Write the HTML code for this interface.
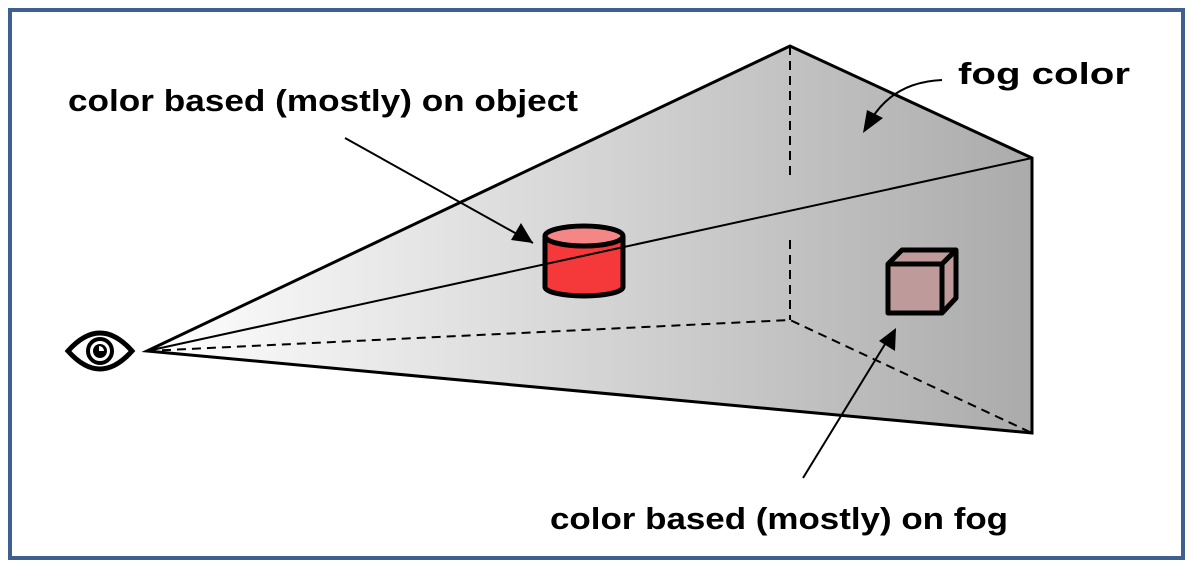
<!DOCTYPE html><html><head><style>body{margin:0;background:#fff}</style></head><body>
<svg width="1193" height="577" xmlns="http://www.w3.org/2000/svg" style="display:block">
<defs>
<linearGradient id="g" x1="147" y1="0" x2="1032" y2="0" gradientUnits="userSpaceOnUse"><stop offset="0" stop-color="#ffffff"/><stop offset="1" stop-color="#ababab"/></linearGradient>
</defs>
<rect x="10" y="10" width="1173" height="548" fill="#fff" stroke="#3f5f8f" stroke-width="4"/>
<polygon points="147,351 790,46 1032,158 1032,433" fill="url(#g)" stroke="#000" stroke-width="3"/>
<g stroke="#000" stroke-width="2" stroke-dasharray="9,6" fill="none">
<polyline points="147,351 790,320 1032,433"/>
<line x1="790" y1="46" x2="790" y2="175"/>
<line x1="790" y1="240" x2="790" y2="320"/>
</g>
<path d="M545,236 V287 A39,9 0 0 0 623,287 V236" fill="#f5393a" stroke="#000" stroke-width="5"/>
<ellipse cx="584" cy="236" rx="39" ry="10" fill="#f48686" stroke="#000" stroke-width="5"/>
<line x1="147" y1="351" x2="1032" y2="158" stroke="#000" stroke-width="2"/>
<g stroke="#000" stroke-width="5" stroke-linejoin="round" fill="#bf9a9b">
<polygon points="888,264 902,250 956,250 956,298 942,313 888,313"/>
<polyline points="888,264 942,264 956,250" fill="none"/>
<line x1="942" y1="264" x2="942" y2="313"/>
</g>
<line x1="345" y1="138" x2="533" y2="243" stroke="#000" stroke-width="2"/>
<path d="M533,243 l-22,-3 l10,-17z"/>
<line x1="803" y1="478" x2="890" y2="336" stroke="#000" stroke-width="2"/>
<path d="M896,328 l-1,23 l-16,-10z"/>
<path d="M942,80 Q895,82 872,118" stroke="#000" stroke-width="2" fill="none"/>
<path d="M863,133 l4,-23 l16,8z"/>
<g font-family="Liberation Sans, sans-serif" font-weight="bold" font-size="31">
<text x="68" y="111" textLength="510" lengthAdjust="spacingAndGlyphs">color based (mostly) on object</text>
<text x="958" y="84" textLength="172" lengthAdjust="spacingAndGlyphs">fog color</text>
<text x="550" y="529" textLength="458" lengthAdjust="spacingAndGlyphs">color based (mostly) on fog</text>
</g>
<g transform="translate(100,351)">
<path d="M-32,0 Q0,-36 32,0 Q0,36 -32,0z" fill="#fff" stroke="#000" stroke-width="5"/>
<circle r="12" fill="none" stroke="#000" stroke-width="4"/>
<circle r="7" fill="#000"/>
<path d="M-1,-5 a5,5 0 0 1 5,5 h-5z" fill="#fff"/>
</g>
</svg>
</body></html>
